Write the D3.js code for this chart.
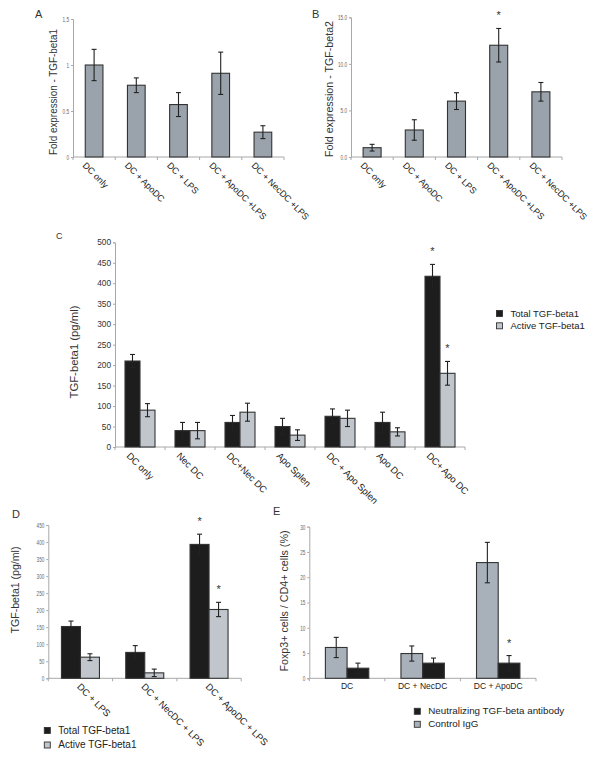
<!DOCTYPE html>
<html><head><meta charset="utf-8">
<script src="https://cdn.jsdelivr.net/npm/d3@7"></script>
<style>
body{margin:0;background:#fff;}
svg{display:block;font-family:"Liberation Sans",Arial,sans-serif;}
</style></head><body>
<svg id="c" width="602" height="763"></svg>
<script>
// ---------- DATA ----------
const catsAB = ["DC only","DC + ApoDC","DC + LPS","DC + ApoDC +LPS","DC + NecDC +LPS"];
const valsA = [1.0, 0.78, 0.57, 0.91, 0.27];
const errA  = [0.17, 0.08, 0.13, 0.23, 0.07];
const ticksA = [0, 0.5, 1, 1.5];
const tickLabelsA = ["0","0.5","1","1.5"];

const valsB = [1.0, 2.9, 6.0, 12.0, 7.0];
const errB  = [0.36, 1.1, 0.9, 1.8, 1.0];
const ticksB = [0, 5, 10, 15];
const tickLabelsB = ["0.0","5.0","10.0","15.0"];
const starsB = [[3,0]];

const catsC = ["DC only","Nec DC","DC+Nec DC","Apo Splen","DC + Apo Splen","Apo DC","DC+ Apo DC"];
const totalC = [210, 40, 60, 50, 75, 60, 417];
const totalErrC = [16, 20, 17, 20, 18, 25, 29];
const activeC = [90, 40, 85, 29, 70, 37, 180];
const activeErrC = [16, 20, 22, 13, 20, 10, 29];
const ticksC = [0,50,100,150,200,250,300,350,400,450,500];
const starsC = [[6,0],[6,1]];

const catsD = ["DC + LPS","DC + NecDC + LPS","DC + ApoDC + LPS"];
const totalD = [152, 76, 393];
const totalErrD = [16, 20, 30];
const activeD = [62, 16, 202];
const activeErrD = [10, 11, 21];
const ticksD = [0,50,100,150,200,250,300,350,400,450];
const starsD = [[2,0],[2,1]];

const catsE = ["DC","DC + NecDC","DC + ApoDC"];
const controlE = [6.1, 4.9, 22.9];
const controlErrE = [2.0, 1.5, 4.0];
const neutE = [2.0, 3.0, 3.0];
const neutErrE = [1.0, 1.0, 1.5];
const ticksE = [0,5,10,15,20,25,30];
const starsE = [[2,1]];

const legendCD = ["Total TGF-beta1","Active TGF-beta1"];
const legendE = ["Neutralizing TGF-beta antibody","Control IgG"];

// ---------- STYLE ----------
const BLACK = "#1d1d1d", GRAY_AB = "#9aa3ab", GRAY_CD = "#c0c6cc", GRAY_E = "#a8b1b9";
const OUT = "#333";
const svg = d3.select("#c");

function panel(o) {
  const g = svg.append("g");
  const x = d3.scaleBand().domain(o.cats).range([o.x0, o.x1]);
  const y = d3.scaleLinear().domain([0, o.yMax]).range([o.yBase, o.yTop]);
  const ns = o.series.length;
  // y axis
  const ax = d3.axisLeft(y).tickValues(o.ticks).tickSize(2).tickPadding(2)
    .tickFormat((d,i) => o.tickLabels ? o.tickLabels[i] : d);
  const ag = g.append("g").attr("transform", `translate(${o.x0},0)`).call(ax);
  ag.select(".domain").attr("stroke", "#a8a8a8");
  ag.selectAll(".tick line").attr("stroke", "#a8a8a8");
  const tt = ag.selectAll(".tick text").attr("fill", o.tickColor || "#555")
     .style("font-size", o.tickSize + "px").style("font-family", "inherit");
  if (o.condensed) {
    tt.attr("x", 0).attr("transform", `translate(-4,0) scale(${o.condensed},1)`);
  }
  // x axis line and boundary ticks
  g.append("line").attr("x1", o.x0).attr("x2", o.x1).attr("y1", o.yBase).attr("y2", o.yBase)
    .attr("stroke", "#a8a8a8");
  g.selectAll(".xt").data(d3.range(o.cats.length + 1)).join("line")
    .attr("x1", i => o.x0 + i * x.step()).attr("x2", i => o.x0 + i * x.step())
    .attr("y1", o.yBase).attr("y2", o.yBase + 3).attr("stroke", "#a8a8a8");
  // bars
  o.series.forEach((s, si) => {
    const bx = c => x(c) + x.bandwidth()/2 - ns*o.barW/2 + si*o.barW;
    g.selectAll(null).data(o.cats).join("rect")
      .attr("x", c => bx(c)).attr("width", o.barW)
      .attr("y", (c,i) => y(s.vals[i])).attr("height", (c,i) => y(0) - y(s.vals[i]))
      .attr("fill", s.color).attr("stroke", OUT).attr("stroke-width", 1.1);
    const eg = g.selectAll(null).data(o.cats).join("g")
      .attr("transform", c => `translate(${bx(c) + o.barW/2},0)`);
    eg.append("line").attr("y1", (c,i) => y(s.vals[i] + s.errs[i])).attr("y2", (c,i) => y(s.vals[i] - s.errs[i]))
      .attr("stroke", "#222").attr("stroke-width", 1.1);
    [1,-1].forEach(sg => {
      eg.append("line").attr("x1", -2.5).attr("x2", 2.5)
        .attr("y1", (c,i) => y(s.vals[i] + sg*s.errs[i])).attr("y2", (c,i) => y(s.vals[i] + sg*s.errs[i]))
        .attr("stroke", "#222").attr("stroke-width", 1.1);
    });
  });
  // stars
  (o.stars || []).forEach(([ci, si]) => {
    const s = o.series[si], c = o.cats[ci];
    const cx = x(c) + x.bandwidth()/2 - ns*o.barW/2 + (si+0.5)*o.barW;
    g.append("text").attr("x", cx).attr("y", y(s.vals[ci] + s.errs[ci]) - 9)
      .attr("text-anchor", "middle").style("font-size", "11px").attr("fill", "#333").text("*");
  });
  // x labels
  o.cats.forEach(c => {
    const cx = x(c) + x.bandwidth()/2;
    if (o.rot) {
      g.append("text").attr("transform", `translate(${cx + o.ldx},${o.yBase + o.ldy}) rotate(45)`)
        .attr("text-anchor", "start").style("font-size", o.labelSize + "px").attr("fill", "#222").text(c);
    } else {
      g.append("text").attr("x", cx).attr("y", o.yBase + o.ldy).attr("text-anchor", "middle")
        .style("font-size", o.labelSize + "px").attr("fill", "#222").text(c);
    }
  });
  // y title
  g.append("text").attr("transform", `translate(${o.tx},${o.ty}) rotate(-90)`)
    .attr("text-anchor", "middle").style("font-size", o.titleSize + "px").attr("fill", "#333")
    .attr("textLength", o.titleLen).attr("lengthAdjust", "spacingAndGlyphs").text(o.title);
  // panel letter
  g.append("text").attr("x", o.letter[1]).attr("y", o.letter[2]).style("font-size", o.letter[3] + "px")
    .attr("fill", "#333").text(o.letter[0]);
  return g;
}

function legend(items, colors, lx, ly, gap, size) {
  const g = svg.append("g");
  items.forEach((t, i) => {
    g.append("rect").attr("x", lx).attr("y", ly + i*gap - 6).attr("width", 6).attr("height", 6)
      .attr("fill", colors[i]).attr("stroke", OUT).attr("stroke-width", 0.9);
    g.append("text").attr("x", lx + 14).attr("y", ly + i*gap).style("font-size", size + "px")
      .attr("fill", "#222").text(t);
  });
}

// Panel A
panel({cats: catsAB, x0: 73, x1: 284, yBase: 157, yTop: 19, yMax: 1.5,
  ticks: ticksA, tickLabels: tickLabelsA, tickSize: 7.5, condensed: 0.62, tickColor: "#666",
  series: [{vals: valsA, errs: errA, color: GRAY_AB}], barW: 17.7,
  rot: true, ldx: -12, ldy: 9, labelSize: 9,
  title: "Fold expression - TGF-beta1", tx: 57, ty: 92, titleSize: 10, titleLen: 126,
  letter: ["A", 35, 18, 11]});

// Panel B
panel({cats: catsAB, x0: 351, x1: 562, yBase: 157, yTop: 17.3, yMax: 15,
  ticks: ticksB, tickLabels: tickLabelsB, tickSize: 7.5, condensed: 0.62, tickColor: "#666",
  series: [{vals: valsB, errs: errB, color: GRAY_AB}], barW: 18, stars: starsB,
  rot: true, ldx: -12, ldy: 9, labelSize: 9,
  title: "Fold expression - TGF-beta2", tx: 333, ty: 89, titleSize: 10.5, titleLen: 136,
  letter: ["B", 312, 18, 11]});

// Panel C
panel({cats: catsC, x0: 115, x1: 465, yBase: 447, yTop: 242.3, yMax: 500,
  ticks: ticksC, tickSize: 8.3, tickColor: "#333",
  series: [{vals: totalC, errs: totalErrC, color: BLACK}, {vals: activeC, errs: activeErrC, color: GRAY_CD}],
  barW: 15, stars: starsC,
  rot: true, ldx: -14, ldy: 9.5, labelSize: 9.5,
  title: "TGF-beta1 (pg/ml)", tx: 78, ty: 352, titleSize: 11, titleLen: 93,
  letter: ["C", 56, 239, 9]});
legend(legendCD, [BLACK, GRAY_CD], 496.5, 316.5, 12.3, 9.5);

// Panel D
panel({cats: catsD, x0: 48.3, x1: 241.2, yBase: 678.3, yTop: 525, yMax: 450,
  ticks: ticksD, tickSize: 7.5, condensed: 0.62, tickColor: "#666",
  series: [{vals: totalD, errs: totalErrD, color: BLACK}, {vals: activeD, errs: activeErrD, color: GRAY_CD}],
  barW: 19, stars: starsD,
  rot: true, ldx: -4, ldy: 9, labelSize: 9.5,
  title: "TGF-beta1 (pg/ml)", tx: 18.5, ty: 590, titleSize: 10.5, titleLen: 87,
  letter: ["D", 12, 518, 11]});
legend(legendCD, [BLACK, GRAY_CD], 44.3, 733.5, 14.5, 10);

// Panel E
panel({cats: catsE, x0: 309.3, x1: 536, yBase: 678.3, yTop: 526.7, yMax: 30,
  ticks: ticksE, tickSize: 7.5, condensed: 0.62, tickColor: "#666",
  series: [{vals: controlE, errs: controlErrE, color: GRAY_E}, {vals: neutE, errs: neutErrE, color: BLACK}],
  barW: 21.7, stars: starsE,
  rot: false, ldy: 11, labelSize: 8.5,
  title: "Foxp3+ cells / CD4+ cells (%)", tx: 288, ty: 601, titleSize: 10.5, titleLen: 141,
  letter: ["E", 273, 515, 11]});
legend(legendE, [BLACK, GRAY_E], 414.3, 714.3, 13, 9.8);
</script>
</body></html>
